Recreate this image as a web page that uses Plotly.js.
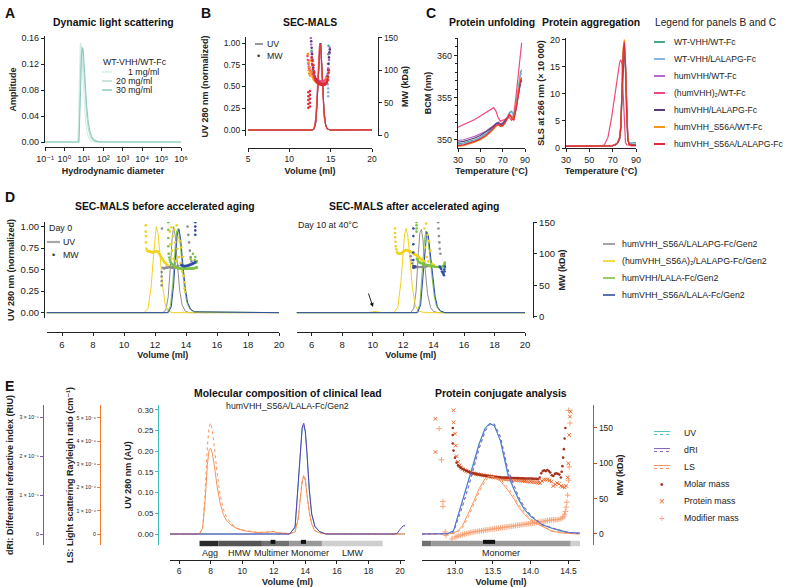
<!DOCTYPE html>
<html><head><meta charset="utf-8">
<script src="https://cdn.plot.ly/plotly-3.0.1.min.js"></script>
<style>html,body{margin:0;padding:0;background:#fff}#chart{width:785px;height:587px}</style>
</head><body><div id="chart"></div>
<script>
// ================= DATA =================
// Panel A: dynamic light scattering (WT-VHH/WT-Fc)
const dlsLabels = ['1 mg/ml', '20 mg/ml', '30 mg/ml'];
const dlsDiameter = [0.1, 4.8, 5.2, 5.6, 6.0, 6.5, 7.1, 7.8, 8.6, 9.3, 10.5, 12, 14, 17, 21, 26, 35, 50, 70, 1e6];
const dls1mg  = [0, 0, 0.02, 0.08, 0.13, 0.15, 0.153, 0.14, 0.115, 0.09, 0.06, 0.035, 0.018, 0.008, 0.003, 0.001, 0, 0, 0, 0];
const dls20mg = [0, 0, 0, 0.01, 0.05, 0.10, 0.135, 0.147, 0.14, 0.125, 0.095, 0.065, 0.04, 0.02, 0.009, 0.004, 0.001, 0, 0, 0];
const dls30mg = [0, 0, 0, 0, 0.03, 0.08, 0.12, 0.14, 0.145, 0.14, 0.115, 0.085, 0.055, 0.03, 0.015, 0.007, 0.003, 0.001, 0, 0];

// Panels B and C constructs
const constructsBC = ['WT-VHH/WT-Fc', 'WT-VHH/LALAPG-Fc', 'humVHH/WT-Fc', '(humVHH)\u2082/WT-Fc',
  'humVHH/LALAPG-Fc', 'humVHH_S56A/WT-Fc', 'humVHH_S56A/LALAPG-Fc'];

// Panel B: SEC-MALS UV (normalized) and MW (kDa)
const secVolume = [5, 12.8, 13.0, 13.2, 13.35, 13.5, 13.6, 13.7, 13.8, 13.9, 14.05, 14.2, 14.4, 14.6, 15.0, 19.6, 19.8, 20];
const secUV = [
  [0, 0, 0.02, 0.12, 0.36, 0.70, 0.88, 0.99, 0.95, 0.76, 0.42, 0.18, 0.05, 0.01, 0, 0, 0.003, 0],
  [0, 0, 0.02, 0.11, 0.34, 0.68, 0.87, 0.98, 0.96, 0.78, 0.44, 0.19, 0.05, 0.01, 0, 0, 0.003, 0],
  [0, 0, 0.01, 0.09, 0.30, 0.64, 0.84, 0.97, 0.98, 0.82, 0.48, 0.21, 0.06, 0.01, 0, 0, 0.003, 0],
  [0, 0, 0.03, 0.15, 0.42, 0.76, 0.93, 1.00, 0.92, 0.70, 0.37, 0.15, 0.04, 0.01, 0, 0, 0.004, 0],
  [0, 0, 0.01, 0.08, 0.28, 0.62, 0.83, 0.96, 1.00, 0.84, 0.50, 0.22, 0.06, 0.01, 0, 0, 0.003, 0],
  [0, 0, 0.02, 0.10, 0.32, 0.66, 0.86, 0.98, 0.97, 0.80, 0.46, 0.20, 0.05, 0.01, 0, 0, 0.003, 0],
  [0, 0, 0.01, 0.09, 0.30, 0.65, 0.85, 0.98, 0.99, 0.82, 0.47, 0.20, 0.05, 0.01, 0, 0.002, 0.01, 0.002]
];
const secMWVolume = [
  [12.7, 12.8, 12.9, 13.0, 13.1, 13.2, 13.35, 13.5, 13.65, 13.8, 13.95, 14.1, 14.25, 14.4, 14.5, 14.6, 14.65, 14.7, 14.72, 14.74],
  [12.75, 12.85, 12.95, 13.05, 13.2, 13.35, 13.5, 13.65, 13.8, 13.95, 14.1, 14.25, 14.4, 14.55, 14.65, 14.7, 14.7, 14.7, 14.7, 14.72],
  [12.6, 12.65, 12.7, 12.75, 12.8, 12.9, 13.0, 13.15, 13.3, 13.5, 13.7, 13.9, 14.1, 14.3, 14.45, 14.6, 14.7, 14.8, 14.85, 14.9],
  [12.2, 12.25, 12.3, 12.35, 12.4, 12.5, 12.6, 12.7, 12.8, 12.9, 13.0, 13.1, 13.25, 13.4, 13.6, 13.8, 14.0, 14.2, 14.4, 14.5],
  [12.65, 12.7, 12.75, 12.8, 12.9, 13.0, 13.1, 13.25, 13.4, 13.6, 13.8, 14.0, 14.2, 14.35, 14.5, 14.6, 14.7, 14.75, 14.8, 14.85, 14.9],
  [12.25, 12.3, 12.35, 12.4, 12.45, 12.5, 12.55, 12.6, 12.7, 12.8, 12.9, 13.0, 13.15, 13.3, 13.5, 13.7, 13.9, 14.1, 14.3, 14.45, 14.55],
  [12.3, 12.3, 12.3, 12.3, 12.3, 12.5, 12.5, 12.5, 12.5, 12.5, 12.7, 12.75, 12.8, 12.85, 12.9, 12.95, 13.0, 13.05, 13.1, 13.15,
   13.2, 13.25, 13.3, 13.35, 13.4, 13.45, 13.5, 13.55, 13.6, 13.65, 13.7, 13.75, 13.8, 13.85, 13.9, 13.95, 14.0, 14.05, 14.1, 14.15,
   14.2, 14.25, 14.3, 14.35, 14.4, 14.45, 14.5, 14.55, 14.6, 14.65, 14.7, 14.75, 14.78]
];
const secMW = [
  [130, 115, 100, 92, 86, 83, 81, 80, 79, 79, 78, 78, 78, 79, 80, 85, 95, 110, 125, 138],
  [120, 105, 95, 89, 85, 82, 80, 79, 78, 78, 78, 78, 79, 80, 78, 60, 66, 72, 85, 100],
  [150, 140, 128, 118, 108, 98, 92, 87, 84, 81, 80, 79, 79, 80, 84, 92, 103, 116, 126, 135],
  [122, 116, 110, 106, 103, 100, 98, 96, 94, 92, 90, 88, 86, 85, 84, 83, 83, 84, 86, 90],
  [145, 135, 125, 115, 104, 96, 90, 86, 83, 81, 80, 79, 79, 80, 83, 90, 100, 110, 120, 128, 132],
  [125, 112, 100, 95, 105, 92, 115, 98, 96, 90, 87, 85, 83, 81, 80, 79, 79, 79, 80, 83, 88],
  [42, 48, 54, 60, 66, 44, 50, 56, 62, 68, 120, 110, 115, 102, 108, 95, 98, 90, 88, 86,
   85, 84, 83, 82, 81, 81, 80, 80, 80, 79, 79, 79, 79, 78, 78, 78, 78, 78, 78, 78,
   78, 78, 79, 79, 80, 80, 81, 82, 84, 86, 90, 96, 100]
];

// Panel C: protein unfolding (BCM, nm) and aggregation (SLS 266 nm, x 10 000)
const tempUnfold = [30, 35, 40, 45, 50, 55, 60, 62, 64, 66, 68, 70, 72, 74, 76, 78, 80, 82, 84, 86, 87];
const bcm = [
  [349.5, 349.6, 349.8, 350.0, 350.3, 350.7, 351.3, 351.6, 351.9, 352.0, 351.8, 351.8, 352.1, 352.6, 353.2, 353.4, 352.9, 354.2, 356.3, 358.0, 358.3],
  [349.4, 349.5, 349.7, 349.9, 350.2, 350.6, 351.2, 351.5, 351.8, 351.9, 351.7, 351.7, 352.0, 352.5, 353.1, 353.3, 352.8, 354.0, 356.0, 357.6, 357.9],
  [349.9, 350.0, 350.2, 350.4, 350.7, 351.0, 351.5, 351.7, 352.0, 352.1, 351.9, 352.0, 352.3, 352.7, 353.0, 352.8, 352.6, 353.6, 355.3, 356.8, 357.1],
  [351.5, 351.8, 352.1, 352.4, 352.8, 353.2, 353.6, 353.8, 353.4, 352.6, 352.2, 352.3, 352.4, 352.5, 352.6, 352.3, 353.0, 355.2, 358.0, 360.6, 361.5],
  [349.7, 349.8, 350.0, 350.2, 350.5, 350.9, 351.4, 351.6, 351.9, 352.0, 351.8, 351.9, 352.2, 352.6, 352.9, 352.7, 352.6, 353.8, 355.5, 356.8, 357.0],
  [349.2, 349.3, 349.5, 349.7, 350.0, 350.4, 351.0, 351.3, 351.6, 351.8, 351.6, 351.6, 351.9, 352.4, 353.0, 352.8, 352.4, 353.8, 355.8, 357.2, 357.4],
  [349.3, 349.4, 349.6, 349.8, 350.1, 350.5, 351.1, 351.4, 351.7, 351.8, 351.6, 351.7, 352.0, 352.5, 353.0, 352.6, 352.3, 353.6, 355.6, 357.0, 357.3]
];
const tempAgg = [30, 40, 50, 60, 63, 66, 69, 72, 74, 76, 77, 78, 79, 80, 81, 82, 83, 84, 86, 88, 90];
const sls = [
  [0.3, 0.3, 0.3, 0.3, 0.3, 0.3, 0.4, 0.6, 0.9, 2.0, 4.5, 11.0, 17.5, 18.8, 14.0, 6.0, 1.5, 0.9, 0.9, 1.0, 1.0],
  [0.3, 0.3, 0.3, 0.3, 0.3, 0.3, 0.4, 0.6, 0.9, 2.0, 4.2, 10.5, 17.0, 18.6, 14.5, 6.5, 1.6, 0.8, 0.7, 0.7, 0.8],
  [0.3, 0.3, 0.3, 0.3, 0.3, 0.3, 0.4, 0.6, 0.9, 1.8, 3.8, 10.0, 16.5, 19.2, 15.5, 7.0, 1.8, 0.8, 0.6, 0.6, 0.6],
  [0.4, 0.4, 0.4, 0.4, 0.6, 2.0, 5.5, 10.0, 13.0, 15.8, 16.3, 15.5, 10.0, 3.5, 1.0, 0.6, 0.5, 0.5, 0.4, 0.4, 0.4],
  [0.3, 0.3, 0.3, 0.3, 0.3, 0.3, 0.4, 0.5, 0.8, 1.6, 3.5, 9.5, 16.0, 19.0, 15.0, 6.8, 1.7, 0.7, 0.6, 0.6, 0.6],
  [0.3, 0.3, 0.3, 0.3, 0.3, 0.3, 0.4, 0.6, 0.9, 1.8, 4.0, 11.5, 18.5, 20.0, 16.0, 7.0, 1.7, 0.7, 0.5, 0.5, 0.5],
  [0.3, 0.3, 0.3, 0.3, 0.3, 0.3, 0.4, 0.6, 0.9, 1.9, 4.0, 10.8, 17.8, 19.5, 15.2, 6.6, 1.6, 0.7, 0.5, 0.5, 0.5]
];

// Panel D: SEC-MALS before / after accelerated aging
const constructsD = ['humVHH_S56A/LALAPG-Fc/Gen2', '(humVHH_S56A)\u2082/LALAPG-Fc/Gen2', 'humVHH/LALA-Fc/Gen2', 'humVHH_S56A/LALA-Fc/Gen2'];
const d0UVVolume = [
  [5, 12.5, 12.7, 12.85, 13.0, 13.1, 13.2, 13.3, 13.45, 13.6, 13.75, 13.95, 14.2, 20],
  [5, 11.3, 11.55, 11.75, 11.9, 12.0, 12.08, 12.2, 12.35, 12.5, 12.65, 12.85, 13.1, 20],
  [5, 12.8, 13.0, 13.15, 13.3, 13.4, 13.5, 13.6, 13.75, 13.9, 14.05, 14.25, 14.5, 20],
  [5, 12.85, 13.05, 13.2, 13.35, 13.45, 13.55, 13.65, 13.8, 13.95, 14.1, 14.3, 14.55, 20]
];
const d0UV = [
  [0, 0, 0.03, 0.18, 0.55, 0.85, 1.0, 0.9, 0.55, 0.25, 0.09, 0.02, 0, 0],
  [0, 0, 0.05, 0.3, 0.65, 0.9, 1.0, 0.92, 0.6, 0.3, 0.1, 0.02, 0, 0],
  [0, 0, 0.08, 0.35, 0.75, 0.95, 0.98, 0.85, 0.55, 0.28, 0.12, 0.04, 0.01, 0],
  [0, 0, 0.07, 0.32, 0.72, 0.93, 0.97, 0.86, 0.56, 0.29, 0.12, 0.04, 0.01, 0]
];
const d0MWVolume = [
  [12.43, 12.43, 12.43, 12.43, 12.45, 12.5, 12.55, 12.6, 12.65, 12.7, 12.75, 12.8, 12.85, 12.9, 12.95, 13.0, 13.05, 13.1, 13.15,
   13.2, 13.25, 13.3, 13.35, 13.4, 13.45, 13.5, 14.1, 14.15, 14.2, 14.25, 14.3, 14.35],
  [11.4, 11.4, 11.41, 11.42, 11.45, 11.5, 11.55, 11.6, 11.65, 11.7, 11.75, 11.8, 11.85, 11.9, 11.95, 12.0, 12.05, 12.1, 12.15,
   12.2, 12.25, 12.3, 12.35, 12.4, 12.45, 12.5, 12.55, 12.6, 12.65, 12.7, 12.75, 12.8, 12.9, 12.95, 13.0, 13.05, 13.1, 13.15,
   13.2, 13.25, 13.3, 13.35, 13.4, 13.45, 13.5, 13.55, 13.6, 13.65, 13.7, 13.75, 13.8, 13.85, 13.9, 13.9, 13.95],
  [12.86, 12.86, 12.86, 12.86, 12.88, 12.92, 12.96, 13.0, 13.05, 13.1, 13.15, 13.2, 13.25, 13.3, 13.35, 13.4, 13.45, 13.5, 13.55,
   13.6, 13.65, 13.7, 13.75, 13.8, 13.85, 13.9, 13.95, 14.0, 14.05, 14.1, 14.15, 14.2, 14.25, 14.3, 14.35, 14.4, 14.45, 14.5,
   14.55, 14.6, 14.65, 14.7, 14.3, 14.45, 14.6, 14.7, 14.55, 14.65],
  [13.7, 13.75, 13.8, 13.85, 13.9, 13.95, 14.0, 14.05, 14.1, 14.15, 14.2, 14.25, 14.3, 14.35, 14.4, 14.45, 14.5, 14.55, 14.6,
   14.6, 14.6, 14.6, 14.6]
];
const d0MW = [
  [50, 57, 64, 71, 140, 78, 77, 77, 77.5, 78, 78, 78.5, 78.5, 79, 79, 79, 78.5, 78.5, 78,
   78, 78, 78.5, 79, 79.5, 80, 81, 143, 130, 118, 105, 95, 88],
  [145, 135, 128, 118, 108, 105, 104, 104, 104, 103, 103, 102, 102, 103, 103, 104, 104, 104, 104,
   103, 101, 99, 97, 95, 93, 91, 89, 87, 86, 85, 83, 82, 100, 135, 115, 142, 105, 128,
   92, 138, 118, 88, 145, 108, 125, 95, 120, 85, 110, 72, 95, 65, 55, 45, 40],
  [150, 138, 125, 112, 100, 94, 90, 87, 85, 83.5, 82, 81, 80, 79, 78.5, 78, 77.5, 77, 77,
   77, 76.8, 76.8, 76.6, 76.5, 76.5, 76.5, 76.4, 76.4, 76.3, 76.3, 76.3, 76.4, 76.5, 76.5, 76.6, 76.8, 77, 77,
   77.2, 77.5, 78, 78.5, 92, 100, 95, 88, 90, 86],
  [82, 81.5, 81, 80.5, 80.5, 80.5, 80.5, 81, 81, 81.5, 82, 82.5, 83, 83.5, 84, 84.5, 85, 86, 87,
   130, 137, 143, 150]
];
const d10UVVolume = [
  [5, 12.5, 12.7, 12.85, 13.0, 13.1, 13.2, 13.3, 13.45, 13.6, 13.8, 14.0, 14.3, 20],
  [5, 9.7, 10.0, 10.15, 10.4, 10.7, 11.4, 11.65, 11.85, 12.0, 12.1, 12.2, 12.3, 12.45, 12.6, 12.8, 13.0, 13.4, 17.2, 17.5, 17.8, 20],
  [5, 12.9, 13.1, 13.25, 13.4, 13.5, 13.6, 13.75, 13.9, 14.05, 14.2, 14.4, 14.7, 20],
  [5, 12.95, 13.15, 13.3, 13.45, 13.55, 13.65, 13.8, 13.95, 14.1, 14.25, 14.45, 14.75, 20]
];
const d10UV = [
  [0, 0, 0.05, 0.25, 0.7, 0.93, 0.97, 0.85, 0.5, 0.22, 0.06, 0.015, 0, 0],
  [0, 0, 0.01, 0.013, 0.006, 0.002, 0.002, 0.06, 0.35, 0.72, 0.92, 0.98, 0.9, 0.62, 0.3, 0.08, 0.02, 0, 0, 0.004, 0, 0],
  [0, 0, 0.1, 0.45, 0.85, 0.95, 0.9, 0.65, 0.38, 0.18, 0.07, 0.02, 0, 0],
  [0, 0, 0.09, 0.42, 0.82, 0.94, 0.9, 0.66, 0.39, 0.19, 0.07, 0.02, 0, 0]
];
const d10MWVolume = [
  [12.45, 12.5, 12.55, 12.6, 12.65, 12.7, 12.75, 12.8, 12.85, 12.9, 13.0, 13.1, 13.2, 13.3, 13.4, 13.5, 13.6, 13.7, 13.8,
   13.9, 14.0, 14.3, 14.32, 14.35, 14.38, 14.4, 14.45],
  [11.46, 11.47, 11.48, 11.5, 11.52, 11.55, 11.6, 11.65, 11.7, 11.75, 11.8, 11.85, 11.9, 11.95, 12.0, 12.05, 12.1, 12.15,
   12.2, 12.25, 12.3, 12.35, 12.4, 12.45, 12.5, 12.55, 12.6, 12.65, 12.7, 12.75, 12.8, 12.85, 12.9, 12.95, 13.0, 13.05,
   13.1, 13.15, 13.2, 13.25, 13.3, 13.35, 13.4, 13.4, 13.45, 13.5, 13.55, 13.6, 13.65, 13.7, 13.75, 13.8, 13.9, 14.0],
  [12.88, 12.88, 12.88, 12.88, 12.9, 12.95, 13.0, 13.05, 13.1, 13.15, 13.2, 13.3, 13.4, 13.5, 13.6, 13.7, 13.8, 13.9,
   14.0, 14.1, 14.2, 14.3, 14.4, 14.5, 14.6, 14.65, 14.7, 14.72, 14.74, 14.74, 14.72],
  [12.67, 12.67, 12.67, 12.67, 12.67, 12.67, 12.7, 12.75, 12.8, 14.4, 14.45, 14.5, 14.55, 14.6, 14.65, 14.7, 14.74, 14.72, 14.68]
];
const d10MW = [
  [103, 96, 90, 85, 81, 79, 78.5, 78.5, 79, 79, 79, 79, 79, 79.5, 80, 80, 80.5, 81, 81,
   81.5, 82, 150, 140, 128, 118, 108, 100],
  [140, 133, 126, 119, 112, 107, 103, 101, 100, 100, 100, 100.5, 101, 102, 103, 104, 105, 105.5,
   106, 105.5, 105, 104.5, 104, 103.5, 103, 102, 101.5, 101, 100, 99, 98.5, 98, 97, 96, 95, 94,
   93, 92, 91, 90.5, 90, 89, 88, 140, 110, 148, 95, 130, 88, 120, 80, 105, 84, 82],
  [150, 145, 140, 135, 92, 90, 88, 87, 86, 85.5, 85, 84, 83, 82.5, 82, 81.5, 81, 80.5,
   80, 79.5, 79, 79, 79, 79.5, 80, 81, 82, 84, 86, 78, 80],
  [140, 128, 115, 102, 90, 78, 80, 80, 80, 80, 78, 76, 72, 70, 68, 75, 80, 72, 66]
];

// Panel E (middle): molecular composition of clinical lead
const compVolume = [5.43, 7.3, 7.5, 7.65, 7.8, 7.9, 8.0, 8.1, 8.25, 8.4, 8.6, 8.8, 9.0, 9.3, 9.7, 10.2, 11.0, 11.7, 12.0, 12.3, 13.0, 13.35, 13.55, 13.7, 13.8, 13.9, 14.0, 14.1, 14.25, 14.4, 14.6, 14.9, 15.3, 19.6, 19.8, 20.0, 20.2, 20.31];
const compUV  = [0, 0, 0, 0, 0, 0, 0, 0, 0, 0, 0, 0, 0, 0, 0, 0, 0, 0, 0.001, 0, 0, 0.015, 0.12, 0.215, 0.255, 0.262, 0.245, 0.195, 0.105, 0.048, 0.018, 0.006, 0, 0, 0, 0, 0, 0];
const compDRI = [0, 0, 0, 0, 0, 0, 0, 0, 0, 0, 0, 0, 0, 0, 0, 0, 0, 0, 0.01, 0, 0, 0.18, 1.3, 2.32, 2.74, 2.84, 2.64, 2.1, 1.15, 0.52, 0.2, 0.06, 0, 0, 0.01, 0.12, 0.21, 0.21];
const compLS1 = [0, 0, 0.3, 1.8, 3.8, 4.6, 4.78, 4.5, 3.7, 2.7, 1.7, 1.1, 0.75, 0.45, 0.25, 0.15, 0.07, 0.08, 0.12, 0.05, 0.02, 0.1, 0.7, 1.7, 2.3, 2.55, 2.35, 1.75, 0.95, 0.45, 0.15, 0.05, 0.01, 0, 0, 0, 0, 0];
const compLS2 = [0, 0, 0.25, 1.4, 3.0, 3.6, 3.7, 3.5, 2.9, 2.1, 1.35, 0.85, 0.6, 0.38, 0.22, 0.13, 0.06, 0.07, 0.1, 0.04, 0.02, 0.09, 0.66, 1.65, 2.25, 2.5, 2.3, 1.7, 0.92, 0.43, 0.14, 0.05, 0.01, 0, 0, 0, 0, 0];
const fracNames = ['Agg', 'HMW', 'Multimer', 'Monomer', 'LMW'];
const fracStart = [7.3, 8.5, 11.25, 13.0, 15.05];
const fracEnd   = [8.5, 11.25, 13.0, 15.05, 18.9];
const peakMarkStart = [11.8, 13.72];
const peakMarkEnd   = [12.1, 14.04];

// Panel E (right): protein conjugate analysis
const conjVolume = [12.56, 12.9, 12.98, 13.04, 13.1, 13.18, 13.25, 13.32, 13.4, 13.46, 13.52, 13.6, 13.7, 13.78, 13.84, 13.92, 14.0, 14.06, 14.15, 14.28, 14.4, 14.5, 14.65];
const conjUV1  = [0, 0.001, 0.008, 0.045, 0.08, 0.13, 0.175, 0.22, 0.258, 0.268, 0.262, 0.225, 0.14, 0.105, 0.082, 0.058, 0.042, 0.034, 0.022, 0.014, 0.007, 0.004, 0.002];
const conjUV2  = [0, 0.0005, 0.005, 0.035, 0.068, 0.115, 0.16, 0.208, 0.25, 0.266, 0.266, 0.235, 0.155, 0.115, 0.09, 0.064, 0.046, 0.037, 0.024, 0.015, 0.008, 0.004, 0.002];
const conjDRI1 = [0, 0.01, 0.08, 0.46, 0.83, 1.36, 1.83, 2.31, 2.71, 2.83, 2.78, 2.4, 1.55, 1.15, 0.9, 0.63, 0.46, 0.37, 0.24, 0.15, 0.08, 0.04, 0.02];
const conjDRI2 = [0, 0.005, 0.05, 0.38, 0.72, 1.22, 1.7, 2.2, 2.64, 2.82, 2.82, 2.5, 1.65, 1.22, 0.95, 0.68, 0.49, 0.39, 0.25, 0.16, 0.08, 0.04, 0.02];
const conjLS1  = [0, 0, 0.04, 0.14, 0.36, 0.89, 1.42, 1.96, 2.4, 2.5, 2.45, 2.28, 1.89, 1.51, 1.17, 0.84, 0.59, 0.48, 0.32, 0.12, 0.05, 0.02, 0];
const conjLS2  = [0, 0, 0.02, 0.1, 0.28, 0.76, 1.28, 1.82, 2.3, 2.46, 2.48, 2.36, 2.0, 1.62, 1.27, 0.92, 0.65, 0.53, 0.36, 0.14, 0.06, 0.02, 0];
const molarVolume = [12.97, 12.97, 12.97, 12.98, 13.00, 13.02, 13.04, 13.06, 13.08, 13.10, 13.12, 13.14, 13.16, 13.18, 13.20,
  13.22, 13.24, 13.26, 13.28, 13.30, 13.32, 13.34, 13.36, 13.38, 13.40, 13.42, 13.44, 13.46, 13.48, 13.50, 13.52, 13.54,
  13.56, 13.58, 13.60, 13.62, 13.64, 13.66, 13.68, 13.70, 13.72, 13.74, 13.76, 13.78, 13.80, 13.82, 13.84, 13.86, 13.88,
  13.90, 13.92, 13.94, 13.96, 13.98, 14.00, 14.02, 14.04, 14.06, 14.08, 14.10, 14.12, 14.14, 14.16, 14.18, 14.20, 14.22,
  14.24, 14.26, 14.28, 14.30, 14.32, 14.34, 14.36, 14.38, 14.40, 14.41, 14.42, 14.43, 14.44, 14.45, 14.46];
const molarMass = [150, 140, 128, 118, 108, 101, 97, 95, 93.5, 92, 91, 90, 89, 88, 87,
  86.5, 86, 85.5, 85, 84.5, 84, 83.5, 83, 82.8, 82.5, 82.2, 82, 81.8, 81.5, 81.3, 81, 80.8,
  80.6, 80.4, 80.2, 80, 80, 79.8, 79.7, 79.6, 79.5, 79.4, 79.3, 79.2, 79.1, 79, 79, 78.9, 78.8,
  78.7, 78.6, 78.6, 78.5, 78.4, 78.4, 78.3, 78.2, 78.2, 78, 77.5, 80, 86, 89, 90, 89, 90.5,
  89, 87, 83, 82, 85, 86, 85, 84, 80, 88, 96, 108, 120, 135, 150];
const proteinVolume = [12.74, 12.74, 12.98, 12.98, 13.00, 13.01, 13.02, 13.04, 13.06, 13.08, 13.10, 13.125, 13.15, 13.175,
  13.2, 13.225, 13.25, 13.275, 13.3, 13.325, 13.35, 13.375, 13.4, 13.425, 13.45, 13.475, 13.5, 13.525, 13.55, 13.575,
  13.6, 13.625, 13.65, 13.675, 13.7, 13.725, 13.75, 13.775, 13.8, 13.825, 13.85, 13.875, 13.9, 13.925, 13.95, 13.975,
  14.0, 14.025, 14.05, 14.075, 14.1, 14.125, 14.15, 14.175, 14.2, 14.225, 14.25, 14.275, 14.3, 14.325, 14.35, 14.375,
  14.4, 14.425, 14.45, 14.47, 14.49, 14.5, 14.51, 14.52, 14.53];
const proteinMass = [163, 116, 175, 158, 142, 125, 110, 102, 97, 94, 92, 90, 89, 88,
  87, 86, 85.5, 85, 84.5, 84, 83.5, 83, 82.5, 82, 81.5, 81, 80.5, 80, 79.5, 79,
  78.5, 78, 77.8, 77.5, 77.2, 77, 76.8, 76.5, 76.2, 76, 75.7, 75.4, 75.1, 74.8, 74.5, 74.2,
  74, 73.6, 73.3, 73, 72.6, 72.2, 75, 77, 77, 77, 76, 74, 68, 70, 72, 71,
  68, 67, 66, 68, 80, 100, 140, 166, 173];
const modifierVolume = [12.79, 12.82, 12.84, 12.84, 12.87, 12.88, 12.96, 13.0, 13.025, 13.05, 13.075, 13.1, 13.125, 13.15,
  13.175, 13.2, 13.225, 13.25, 13.275, 13.3, 13.325, 13.35, 13.375, 13.4, 13.425, 13.45, 13.475, 13.5, 13.525, 13.55,
  13.575, 13.6, 13.625, 13.65, 13.675, 13.7, 13.725, 13.75, 13.775, 13.8, 13.825, 13.85, 13.875, 13.9, 13.925, 13.95,
  13.975, 14.0, 14.025, 14.05, 14.075, 14.1, 14.125, 14.15, 14.175, 14.2, 14.225, 14.25, 14.275, 14.3, 14.325, 14.35,
  14.375, 14.4, 14.425, 14.44, 14.45, 14.46, 14.47, 14.48, 14.49, 14.5, 14.51, 14.52, 14.5];
const modifierMass = [149, 105, 46, 39, 3, -2, -7, -4.5, -3.5, -2.6, -1.6, -0.8, 0, 0.7,
  1.3, 1.9, 2.4, 2.9, 3.3, 3.8, 4.2, 4.6, 5, 5.5, 5.9, 6.2, 6.6, 7, 7.5, 7.9,
  8.2, 8.6, 9.1, 9.4, 9.8, 10.2, 10.7, 11, 11.4, 11.8, 12.3, 12.6, 13, 13.4, 13.9, 14.2,
  14.6, 15, 15.5, 15.8, 16.2, 16.6, 17.1, 17.5, 18, 18.4, 19, 19.5, 19.8, 20, 20, 20.2,
  20.8, 21.5, 23, 25, 28, 32, 38, 45, 55, 76, 95, 157, 175];
const conjFracStart = [12.56, 12.69, 14.53];
const conjFracEnd   = [12.69, 14.53, 14.653];
const conjMarkStart = [13.37];
const conjMarkEnd   = [13.53];

// ================= STYLE / LAYOUT =================
const W = 785, H = 587;
const px = v => v / W, py = v => 1 - v / H;
const xd = (a, b) => [px(a), px(b)];
const yd = (top, bottom) => [py(bottom), py(top)];
const FONT = 'Liberation Sans, Arial, Helvetica, DejaVu Sans, sans-serif';
const INK = '#222';

const colBC = ['#45a98a', '#86b4e2', '#b468cc', '#f0497c', '#5c3b7c', '#f7941f', '#e12b3a'];
const colD = ['#8e8e8e', '#f0d21a', '#7cc242', '#2f4ea5'];
const colDLS = ['#d6eee8', '#b6ded5', '#8fcbbd'];
const cUV = '#4fc4c6', cRI = '#8e63c8', cLS = '#f7935a';
const cMolar = '#a8321c', cProt = '#ef6a2e', cMod = '#f7a47a';
const fracColors = ['#2b2b2b', '#555555', '#727272', '#9a9a9a', '#cfcfcf'];
const conjFracColors = ['#727272', '#9a9a9a', '#cfcfcf'];

function ax(extra) {
  return Object.assign({showgrid: false, zeroline: false, showline: true, linecolor: INK, linewidth: 1.2,
    ticks: 'outside', ticklen: 3, tickwidth: 1, tickcolor: INK, tickfont: {size: 9, color: INK},
    fixedrange: true, automargin: false}, extra);
}
function ttl(text, standoff, size) {
  return {text: '<b>' + text + '</b>', font: {size: size || 9, color: INK}, standoff: standoff};
}

const traces = [];
function lineTrace(x, y, xa, ya, color, width, dash) {
  traces.push({type: 'scatter', mode: 'lines', x: x, y: y, xaxis: xa, yaxis: ya,
    line: {color: color, width: width || 1, dash: dash || 'solid'}, hoverinfo: 'skip'});
}
function dotTrace(x, y, xa, ya, color, size, symbol) {
  const m = {color: color, size: size || 2.6, symbol: symbol || 'circle', line: {width: 0}};
  if (/thin/.test(m.symbol)) m.line = {color: color, width: 1};
  traces.push({type: 'scatter', mode: 'markers', x: x, y: y, xaxis: xa, yaxis: ya, marker: m, hoverinfo: 'skip'});
}

// A
[dls1mg, dls20mg, dls30mg].forEach((a, i) => lineTrace(dlsDiameter, a, 'x', 'y', colDLS[i], 1.1));
// B
secUV.forEach((u, i) => lineTrace(secVolume, u, 'x2', 'y2', colBC[i], 1));
secMW.forEach((m, i) => dotTrace(secMWVolume[i], m, 'x2', 'y3', colBC[i], 2.6));
// C
bcm.forEach((b, i) => lineTrace(tempUnfold, b, 'x3', 'y4', colBC[i], 1.2));
sls.forEach((s, i) => lineTrace(tempAgg, s, 'x4', 'y5', colBC[i], 1.2));
// D
d0UV.forEach((u, i) => lineTrace(d0UVVolume[i], u, 'x5', 'y6', colD[i], 1));
d0MW.forEach((m, i) => dotTrace(d0MWVolume[i], m, 'x5', 'y7', colD[i], 2.6));
d10UV.forEach((u, i) => lineTrace(d10UVVolume[i], u, 'x6', 'y8', colD[i], 1));
d10MW.forEach((m, i) => dotTrace(d10MWVolume[i], m, 'x6', 'y9', colD[i], 2.6));
// E middle
traces.push({type: 'bar', orientation: 'h', xaxis: 'x7', yaxis: 'y13', y: fracNames.map(() => 0),
  base: fracStart, x: fracEnd.map((e, i) => e - fracStart[i]), width: 0.6,
  marker: {color: fracColors, line: {width: 0}}, hoverinfo: 'skip'});
traces.push({type: 'bar', orientation: 'h', xaxis: 'x7', yaxis: 'y13', y: peakMarkStart.map(() => 0.18),
  base: peakMarkStart, x: peakMarkEnd.map((e, i) => e - peakMarkStart[i]), width: 0.45,
  marker: {color: '#111', line: {width: 0}}, hoverinfo: 'skip'});
lineTrace(compVolume, compUV, 'x7', 'y10', cUV, 1);
lineTrace(compVolume, compLS2, 'x7', 'y11', cLS, 1);
lineTrace(compVolume, compLS1, 'x7', 'y11', cLS, 1, 'dot');
lineTrace(compVolume, compDRI, 'x7', 'y12', '#5a3fb0', 1);
// E right
traces.push({type: 'bar', orientation: 'h', xaxis: 'x8', yaxis: 'y16', y: conjFracStart.map(() => 0),
  base: conjFracStart, x: conjFracEnd.map((e, i) => e - conjFracStart[i]), width: 0.6,
  marker: {color: conjFracColors, line: {width: 0}}, hoverinfo: 'skip'});
traces.push({type: 'bar', orientation: 'h', xaxis: 'x8', yaxis: 'y16', y: conjMarkStart.map(() => 0.18),
  base: conjMarkStart, x: conjMarkEnd.map((e, i) => e - conjMarkStart[i]), width: 0.45,
  marker: {color: '#111', line: {width: 0}}, hoverinfo: 'skip'});
lineTrace(conjVolume, conjUV1, 'x8', 'y14', cUV, 1);
lineTrace(conjVolume, conjUV2, 'x8', 'y14', cUV, 1, 'dot');
lineTrace(conjVolume, conjLS1, 'x8', 'y17', cLS, 1);
lineTrace(conjVolume, conjLS2, 'x8', 'y17', cLS, 1, 'dot');
lineTrace(conjVolume, conjDRI1, 'x8', 'y18', '#5a6fd0', 1);
lineTrace(conjVolume, conjDRI2, 'x8', 'y18', cRI, 1, 'dot');
dotTrace(modifierVolume, modifierMass, 'x8', 'y15', cMod, 4, 'cross-thin-open');
dotTrace(proteinVolume, proteinMass, 'x8', 'y15', cProt, 3.6, 'x-thin-open');
dotTrace(molarVolume, molarMass, 'x8', 'y15', cMolar, 2.6);

const SUP = {'-': '\u207b', '0': '\u2070', '1': '\u00b9', '2': '\u00b2', '3': '\u00b3', '4': '\u2074', '5': '\u2075', '6': '\u2076'};
const supStr = s => String(s).split('').map(c => SUP[c]).join('');
const pow10 = n => '10' + supStr(n);
const tickE = (n, e) => n === 0 ? '0' : n + ' \u00d7 10' + supStr('-' + e);

const layout = {
  width: W, height: H, margin: {l: 0, r: 0, t: 0, b: 0}, paper_bgcolor: '#fff', plot_bgcolor: 'rgba(0,0,0,0)',
  font: {family: FONT, size: 9, color: INK}, showlegend: false, hovermode: false, barmode: 'overlay',
  // A
  xaxis: ax({domain: xd(45, 181), type: 'log', range: [-1, 6], anchor: 'free', position: py(147),
    tickvals: [0.1, 1, 10, 100, 1e3, 1e4, 1e5, 1e6], ticktext: [-1, 0, 1, 2, 3, 4, 5, 6].map(pow10),
    title: ttl('Hydrodynamic diameter', 4)}),
  yaxis: ax({domain: yd(36, 143), range: [-0.0015, 0.1631], anchor: 'x', tickvals: [0, 0.04, 0.08, 0.12, 0.16],
    tickformat: '.2f', title: ttl('Amplitude', 3)}),
  // B
  xaxis2: ax({domain: xd(248, 372), range: [5, 20], anchor: 'free', position: py(148), tickvals: [5, 10, 15, 20],
    tickfont: {size: 8.5, color: INK}, title: ttl('Volume (ml)', 4)}),
  yaxis2: ax({domain: yd(37, 136), range: [-0.069, 1.069], anchor: 'free', position: px(245),
    tickvals: [0, 0.25, 0.5, 0.75, 1], tickformat: '.2f', tickfont: {size: 8.5, color: INK},
    title: ttl('UV 280 nm (normalized)', 12)}),
  yaxis3: ax({domain: yd(37, 136), overlaying: 'y2', side: 'right', anchor: 'free', position: px(378),
    range: [-1.5, 151.5], tickvals: [0, 50, 100, 150], tickfont: {size: 8.5, color: INK}, title: ttl('MW (kDa)', 4)}),
  // C unfolding
  xaxis3: ax({domain: xd(458, 525), range: [30, 90], anchor: 'y4', tickvals: [30, 50, 70, 90],
    title: ttl('Temperature (\u00b0C)', 3)}),
  yaxis4: ax({domain: yd(38, 148), range: [349.02, 362.06], anchor: 'x3', tickvals: [350, 355, 360],
    minor: {ticks: 'outside', ticklen: 2, dtick: 1, tickcolor: INK, tickwidth: 1}, title: ttl('BCM (nm)', 3)}),
  // C aggregation
  xaxis4: ax({domain: xd(566, 636), range: [30, 90], anchor: 'y5', tickvals: [30, 50, 70, 90],
    title: ttl('Temperature (\u00b0C)', 3)}),
  yaxis5: ax({domain: yd(38, 148), range: [0, 20.3], anchor: 'x4', tickvals: [0, 5, 10, 15, 20],
    title: ttl('SLS at 266 nm (\u00d7 10 000)', 3)}),
  // D left
  xaxis5: ax({domain: xd(46.5, 279), range: [5, 20], anchor: 'free', position: py(332),
    tickvals: [6, 8, 10, 12, 14, 16, 18, 20], tickfont: {size: 9.5, color: INK}, title: ttl('Volume (ml)', 0)}),
  yaxis6: ax({domain: yd(222, 318), range: [-0.062, 1.054], anchor: 'free', position: px(44),
    tickvals: [0, 0.25, 0.5, 0.75, 1], tickformat: '.2f', tickfont: {size: 9.5, color: INK},
    title: ttl('UV 280 nm (normalized)', 3)}),
  yaxis7: {domain: yd(222, 318), overlaying: 'y6', range: [-1.6, 150.3], visible: false, fixedrange: true},
  // D right
  xaxis6: ax({domain: xd(296.5, 525), range: [5, 20], anchor: 'free', position: py(332),
    tickvals: [6, 8, 10, 12, 14, 16, 18, 20], tickfont: {size: 9.5, color: INK}, title: ttl('Volume (ml)', 0)}),
  yaxis8: {domain: yd(222, 318), range: [-0.062, 1.054], anchor: 'x6', visible: false, fixedrange: true},
  yaxis9: ax({domain: yd(222, 318), overlaying: 'y8', side: 'right', anchor: 'free', position: px(533),
    range: [-1.6, 150.3], tickvals: [0, 50, 100, 150], tickfont: {size: 9.5, color: INK}, title: ttl('MW (kDa)', 4)}),
  // E middle
  xaxis7: ax({domain: xd(170, 405), range: [5.43, 20.31], anchor: 'free', position: py(560),
    tickvals: [6, 8, 10, 12, 14, 16, 18, 20], tickfont: {size: 8.5, color: INK}, title: ttl('Volume (ml)', 3)}),
  yaxis10: ax({domain: yd(405, 545), range: [-0.0266, 0.312], anchor: 'free', position: px(158),
    linecolor: '#3cbcbc', tickcolor: '#3cbcbc', tickvals: [0, 0.05, 0.1, 0.15, 0.2, 0.25, 0.3], tickformat: '.2f',
    tickfont: {size: 8, color: INK}, title: ttl('UV 280 nm (AU)', 3)}),
  yaxis11: ax({domain: yd(405, 545), overlaying: 'y10', anchor: 'free', position: px(100), range: [-0.474, 5.56],
    linecolor: '#f47a2c', tickcolor: '#f47a2c', tickvals: [0, 1, 2, 3, 4, 5], ticktext: [0, 1, 2, 3, 4, 5].map(n => tickE(n, 6)),
    tickfont: {size: 5.2, color: INK}, title: ttl('LS: Light scattering Rayleigh ratio (cm\u207b\u00b9)', 0)}),
  yaxis12: ax({domain: yd(405, 545), overlaying: 'y10', anchor: 'free', position: px(43), range: [-0.282, 3.31],
    linecolor: '#7d52b3', tickcolor: '#7d52b3', tickvals: [0, 1, 2, 3], ticktext: [0, 1, 2, 3].map(n => tickE(n, 5)),
    tickfont: {size: 5.2, color: INK}, title: ttl('dRI: Differential refractive index (RIU)', 3)}),
  yaxis13: {domain: yd(539, 548), range: [-0.5, 0.5], anchor: 'x7', visible: false, fixedrange: true},
  // E right
  xaxis8: ax({domain: xd(422, 580), range: [12.563, 14.653], anchor: 'free', position: py(560),
    tickvals: [13, 13.5, 14, 14.5], tickformat: '.1f', tickfont: {size: 8.5, color: INK}, title: ttl('Volume (ml)', 3)}),
  yaxis14: {domain: yd(405, 545), range: [-0.0266, 0.312], anchor: 'x8', visible: false, fixedrange: true},
  yaxis15: ax({domain: yd(405, 545), overlaying: 'y14', side: 'right', anchor: 'free', position: px(593),
    range: [-15.6, 182.5], tickvals: [0, 50, 100, 150], linecolor: '#c4532b', tickcolor: '#c4532b',
    tickfont: {size: 8.5, color: INK}, title: ttl('MW (kDa)', 4)}),
  yaxis16: {domain: yd(539, 548), range: [-0.5, 0.5], anchor: 'x8', visible: false, fixedrange: true},
  yaxis17: {domain: yd(405, 545), overlaying: 'y14', range: [-0.474, 5.56], visible: false, fixedrange: true},
  yaxis18: {domain: yd(405, 545), overlaying: 'y14', range: [-0.282, 3.31], visible: false, fixedrange: true}
};

// ---------- annotations & legend samples ----------
const ann = [], shp = [];
function txt(x, y, text, o) {
  ann.push(Object.assign({xref: 'paper', yref: 'paper', x: px(x), y: py(y), text: text, showarrow: false,
    xanchor: 'center', yanchor: 'middle', font: {size: 9, color: INK}}, o || {}));
}
function seg(x0, x1, y, color, width, dash) {
  shp.push({type: 'line', xref: 'paper', yref: 'paper', x0: px(x0), x1: px(x1), y0: py(y), y1: py(y),
    line: {color: color, width: width || 2, dash: dash || 'solid'}});
}
// panel letters
[['A', 3, 3], ['B', 199, 3], ['C', 424, 3], ['D', 3, 187], ['E', 3, 376]].forEach(p =>
  txt(p[1], p[2], '<b>' + p[0] + '</b>', {xanchor: 'left', yanchor: 'top', font: {size: 14, color: '#111'}}));
// panel titles
const T = 10.4;
txt(113, 22, '<b>Dynamic light scattering</b>', {font: {size: T, color: '#111'}});
txt(310, 22, '<b>SEC-MALS</b>', {font: {size: T, color: '#111'}});
txt(492, 22, '<b>Protein unfolding</b>', {font: {size: T, color: '#111'}});
txt(591, 22, '<b>Protein aggregation</b>', {font: {size: T, color: '#111'}});
txt(165, 207, '<b>SEC-MALS before accelerated aging</b>', {font: {size: T, color: '#111'}});
txt(414, 207, '<b>SEC-MALS after accelerated aging</b>', {font: {size: T, color: '#111'}});
txt(288, 393, '<b>Molecular composition of clinical lead</b>', {font: {size: T, color: '#111'}});
txt(287, 406, 'humVHH_S56A/LALA-Fc/Gen2', {font: {size: 8.8, color: INK}});
txt(501, 393, '<b>Protein conjugate analysis</b>', {font: {size: T, color: '#111'}});

// Legend A
txt(101, 62, 'WT-VHH/WT-Fc', {xanchor: 'left', font: {size: 8.8, color: INK}});
dlsLabels.forEach((l, i) => {
  seg(102, 112, 72 + 9 * i, colDLS[i], 1.5);
  txt(i === 0 ? 126 : 114, 72 + 9 * i, l, {xanchor: 'left', font: {size: 8.8, color: INK}});
});
// Legend B
seg(255, 263, 44, '#555', 1.2);
txt(265, 44, 'UV', {xanchor: 'left', font: {size: 8.8, color: INK}});
txt(258, 56, '\u2022', {font: {size: 9, color: '#333'}});
txt(265, 56, 'MW', {xanchor: 'left', font: {size: 8.8, color: INK}});
// Legend for B and C
txt(653, 22, 'Legend for panels B and C', {xanchor: 'left', font: {size: 10.2, color: INK}});
constructsBC.forEach((c, i) => {
  seg(654, 665, 42 + 17 * i, colBC[i], 2);
  txt(672, 42 + 17 * i, c, {xanchor: 'left', font: {size: 8.6, color: INK}});
});
// D in-plot legend and labels
txt(47, 228, 'Day 0', {xanchor: 'left', font: {size: 8.9, color: INK}});
seg(47, 60, 242, '#a8a8a8', 2.2);
txt(61, 242, 'UV', {xanchor: 'left', font: {size: 8.8, color: INK}});
txt(53.5, 255, '\u2022', {font: {size: 9, color: '#333'}});
txt(61, 255, 'MW', {xanchor: 'left', font: {size: 8.8, color: INK}});
txt(296, 225, 'Day 10 at 40\u00b0C', {xanchor: 'left', font: {size: 8.9, color: INK}});
ann.push({xref: 'x6', yref: 'y8', x: 10.02, y: 0.066, ax: -5, ay: -15, showarrow: true, text: '',
  arrowhead: 2, arrowsize: 0.9, arrowwidth: 0.9, arrowcolor: '#111'});
constructsD.forEach((c, i) => {
  seg(603, 615, 244 + 17 * i, colD[i], 1.6);
  txt(620, 244 + 17 * i, c, {xanchor: 'left', font: {size: 8.8, color: INK}});
});
// E fraction labels
const fracLabelShift = [0.08, -0.07, -0.3, 0.28, 0.02];
fracNames.forEach((n, i) => ann.push({xref: 'x7', yref: 'paper', x: (fracStart[i] + fracEnd[i]) / 2 + fracLabelShift[i],
  y: py(553), text: n, showarrow: false, xanchor: 'center', yanchor: 'middle', font: {size: 9, color: INK}}));
ann.push({xref: 'x8', yref: 'paper', x: (conjFracStart[1] + conjFracEnd[1]) / 2, y: py(553), text: 'Monomer',
  showarrow: false, xanchor: 'center', yanchor: 'middle', font: {size: 9, color: INK}});
// Legend E
[['UV', cUV], ['dRI', cRI], ['LS', cLS]].forEach((e, i) => {
  const y = 433 + 17 * i;
  seg(654, 670, y - 1.5, e[1], 1);
  seg(654, 670, y + 1.5, e[1], 1, 'dot');
  txt(682, y, e[0], {xanchor: 'left', font: {size: 8.8, color: INK}});
});
txt(662, 484, '\u2022', {font: {size: 10, color: cMolar}});
txt(682, 484, 'Molar mass', {xanchor: 'left', font: {size: 8.8, color: INK}});
txt(662, 501, '\u00d7', {font: {size: 10, color: cProt}});
txt(682, 501, 'Protein mass', {xanchor: 'left', font: {size: 8.8, color: INK}});
txt(662, 518, '+', {font: {size: 10, color: cMod}});
txt(682, 518, 'Modifier mass', {xanchor: 'left', font: {size: 8.8, color: INK}});

layout.annotations = ann;
layout.shapes = shp;

Plotly.newPlot('chart', traces, layout, {displayModeBar: false, staticPlot: true});
</script>
</body></html>
